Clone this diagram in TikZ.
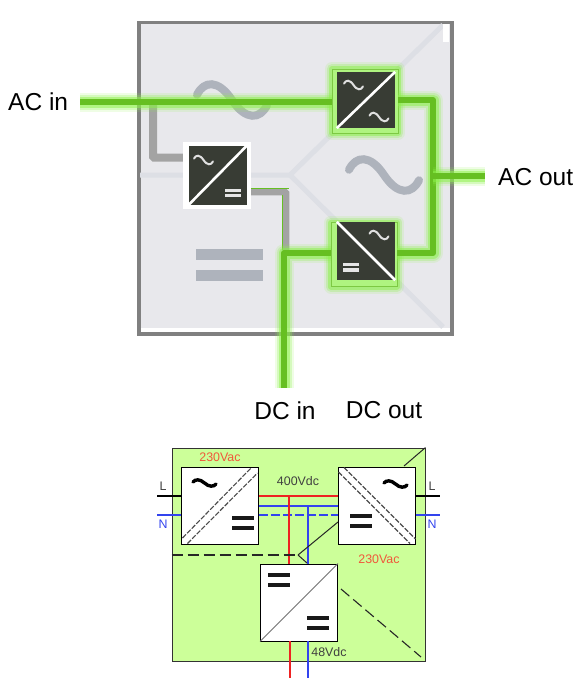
\documentclass[tikz,border=0pt]{standalone}
\usepackage{fontspec}
\setmainfont{Liberation Sans}
\usepackage{tikz}
\usetikzlibrary{arrows.meta,positioning,calc}
\definecolor{panelgrey}{HTML}{E8E8EC}
\definecolor{frameedge}{HTML}{808080}
\definecolor{seamgrey}{HTML}{DDDFE5}
\definecolor{markgrey}{HTML}{AEB3BC}
\definecolor{idleline}{HTML}{A3A3A3}
\definecolor{livegreen}{HTML}{66BF22}
\definecolor{glowgreen}{HTML}{8CF04A}
\definecolor{darkcell}{HTML}{383C34}
\definecolor{limefill}{HTML}{CCFF99}
\definecolor{railred}{HTML}{EE2222}
\definecolor{railblue}{HTML}{3344EE}
\definecolor{voltred}{HTML}{F0583A}
\newcommand{\wavemark}[5]{\draw[#1, line width=#2, line cap=round, shift={#3}, xscale=#4, yscale=#5]
  (-10,-1.5) .. controls (-8,-5.5) and (-4,-6) .. (0,0) .. controls (4,6) and (8,5.5) .. (10,1.5);}
\tikzset{
  x=1pt, y=-1pt,
  glow/.style={
    preaction={draw=glowgreen, line width=#1+13, opacity=.14, line join=round},
    preaction={draw=glowgreen, line width=#1+9, opacity=.26, line join=round},
    preaction={draw=glowgreen, line width=#1+5, opacity=.5, line join=round}},
  liveline/.style={glow=6, draw=livegreen, line width=6, line join=round},
  idlewire/.style={draw=idleline, line width=#1, rounded corners=1},
  seam/.style={draw=seamgrey, line width=5},
  cellframe/.style={draw=livegreen!85!white, fill=glowgreen!70!white, line width=.8, inner sep=0,
    glow=1, minimum width=66, minimum height=64},
  cellwhite/.style={draw=none, fill=white, inner sep=0, minimum width=68, minimum height=67},
  cell/.style={draw=none, fill=darkcell, inner sep=0, minimum width=58, minimum height=#1},
  celldiag/.style={draw=white, line width=2.6},
  cellbar/.style={draw=none, fill=white!90!black, inner sep=0, minimum width=16, minimum height=3.6},
  biglabel/.style={inner sep=0, font=\fontsize{24.5}{28}\selectfont},
  conv/.style={draw=black, fill=white, line width=.9, inner sep=0, minimum width=77, minimum height=77},
  dashdiag/.style={draw=black!70, line width=1.1, dash pattern=on 5 off 1.6},
  rail/.style={line width=1.1},
  bar/.style={draw=none, fill=black!90, inner sep=0, minimum width=22, minimum height=3.4},
  smalltag/.style={inner sep=0, font=\fontsize{12.4}{14}\selectfont},
  longdash/.style={draw=black!85, line width=1.1, dash pattern=on 11 off 5}
}
\begin{document}
\begin{tikzpicture}
  \useasboundingbox (0,0) rectangle (580,678);
  % upper panel
  \node[draw=frameedge, fill=white, line width=4, inner sep=0, minimum width=313, minimum height=311] (panel) at (295,178) {};
  \node[fill=panelgrey, inner sep=0, minimum width=309, minimum height=304] (panelface) at (295,175.5) {};
  \coordinate (hub) at (290,175);
  \coordinate (seamleft) at (140,175);
  \coordinate (seamtop) at (443,25);
  \coordinate (seambot) at (443,327);
  \draw[seam] (seamleft) -- (hub) -- (seamtop);
  \draw[seam] (hub) -- (seambot);
  \fill[white] (443,24) rectangle (449,42);
  \wavemark{markgrey}{8pt}{(232,100)}{3.5}{3.5}
  \wavemark{markgrey}{8pt}{(384,175)}{3.5}{3.5}
  \node[fill=markgrey, inner sep=0, minimum width=67, minimum height=11] (dcmarktop) at (229.5,254.5) {};
  \node[fill=markgrey, inner sep=0, minimum width=67, minimum height=11] (dcmarkbot) at (229.5,275.5) {};

  % converters
  \node[cellwhite] (rectwhite) at (217,175.5) {};
  \node[cell=59] (rect) at (217.5,175.5) {};
  \node[cellframe] (invframe) at (365,101) {};
  \node[cell=56] (inv) at (366,100) {};
  \node[cellframe] (boostframe) at (364,254.5) {};
  \node[cell=58] (boost) at (366,251) {};

  \draw[celldiag] (rect.south west) -- (rect.north east);
  \draw[celldiag] (inv.south west) -- (inv.north east);
  \draw[celldiag] (boost.north west) -- (boost.south east);
  \wavemark{white!88!black}{2pt}{(203.5,160)}{.95}{.95}
  \wavemark{white!88!black}{2pt}{(353.5,85)}{.95}{.95}
  \wavemark{white!88!black}{2pt}{(379,117)}{.95}{.95}
  \wavemark{white!88!black}{2pt}{(379,235)}{.95}{.95}
  \node[cellbar] (rectbartop) at (232.5,190.5) {};
  \node[cellbar] (rectbarbot) at (232.5,195.5) {};
  \node[cellbar] (boostbartop) at (351,264.5) {};
  \node[cellbar] (boostbarbot) at (351,270) {};

  % wiring
  \node[biglabel, anchor=west] (acin) at (8,102) {AC in};
  \node[biglabel, anchor=west] (acout) at (498,177) {AC out};
  \node[biglabel] (dcin) at (285,411) {DC in};
  \node[biglabel] (dcout) at (384,410) {DC out};

  \coordinate (tap) at (153,102);
  \coordinate (idledrop) at (286,252);
  \coordinate (linestart) at (80,102);
  \coordinate (merge) at (433,176);
  \coordinate (dccorner) at (284,253);
  \coordinate (dcend) at (284,388);
  \draw[idlewire=8] (tap) |- (rectwhite.west |- 0,157.5);
  \draw[idlewire=6.5] (rectwhite.east |- 0,192) -| (idledrop);
  \draw[livegreen, line width=.8] (rectwhite.east |- 0,188.5) -- (289,188.5);
  \draw[livegreen, line width=.8] (282.6,195) -- (282.6,250);
  \draw[liveline] (linestart) -- (invframe.west |- linestart);
  \draw[liveline] (invframe.east |- 0,100) -| (merge) |- (boostframe.east |- 0,253);
  \draw[liveline] (merge) -- (485,176);
  \draw[liveline] (dcend) -- (dccorner) -- (boostframe.west |- dccorner);

  % lower schematic
  \node[draw=black!80, fill=limefill, line width=.9, inner sep=0, minimum width=253, minimum height=213] (cabinet) at (298.5,554.5) {};
  \node[conv] (pfc) at (220,505.5) {};
  \node[conv] (sts) at (377,505.5) {};
  \node[conv] (dcdc) at (299,602.5) {};

  \coordinate (lleft) at (157,496);
  \coordinate (lright) at (440,496);
  \coordinate (nleft) at (157,515);
  \coordinate (nright) at (440,515);
  \coordinate (busred) at (289,496);
  \coordinate (busblue) at (308,506);
  \draw[rail, black] (lleft) -- (pfc.west |- lleft);
  \draw[rail, black] (sts.east |- lright) -- (lright);
  \draw[rail, railblue] (nleft) -- (pfc.west |- nleft);
  \draw[rail, railblue] (sts.east |- nright) -- (nright);
  \draw[rail, railred] (pfc.east |- busred) -- (sts.west |- busred);
  \draw[rail, railblue] (pfc.east |- busblue) -- (sts.west |- busblue);
  \draw[rail, railblue, dash pattern=on 9 off 3] (pfc.east |- nleft) -- (sts.west |- nleft);
  \draw[rail, railred] (busred) -- (dcdc.north -| busred);
  \draw[rail, railblue] (busblue) -- (dcdc.north -| busblue);
  \draw[rail, railred] (290,641) -- (290,678);
  \draw[rail, railblue] (308,641) -- (308,678);

  \coordinate (split) at (298,555);
  \draw[longdash] (cabinet.west |- split) -- (split);
  \draw[black!85, line width=1] (split) -- (338,522);
  \draw[black!85, line width=1] (split) -- (307,563);
  \draw[black!85, line width=1] (404,466) -- (cabinet.north east);
  \draw[longdash] (341,589) -- (421,657);

  \draw[dashdiag] (182.5,538) -- (251.5,467.5);
  \draw[dashdiag] (187.5,543.5) -- (257.5,473);
  \draw[dashdiag] (338.5,472) -- (410,543.5);
  \draw[dashdiag] (344,467.5) -- (415.5,539);
  \draw[black!55, line width=1] (dcdc.south west) -- (dcdc.north east);

  \wavemark{black}{3.4pt}{(204.5,483)}{1.15}{.7}
  \wavemark{black}{3.4pt}{(395.5,484)}{1.15}{.7}
  \node[bar] (pfcbartop) at (243,518) {};
  \node[bar] (pfcbarbot) at (243,528) {};
  \node[bar] (stsbartop) at (361,516) {};
  \node[bar] (stsbarbot) at (361,526) {};
  \node[bar] (dcbarah) at (279,575) {};
  \node[bar] (dcbaral) at (279,585) {};
  \node[bar] (dcbarbh) at (318,618) {};
  \node[bar] (dcbarbl) at (318,628) {};

  \node[smalltag, text=voltred] (vacin) at (220,457) {230Vac};
  \node[smalltag, text=voltred] (vacout) at (379,559) {230Vac};
  \node[smalltag, text=black!75] (vbus) at (298,481) {400Vdc};
  \node[smalltag, text=black!75] (vtel) at (329,652) {48Vdc};
  \node[smalltag, text=black!75] (tagll) at (163,486) {L};
  \node[smalltag, text=black!75] (taglr) at (432,486) {L};
  \node[smalltag, text=railblue] (tagnl) at (163,524) {N};
  \node[smalltag, text=railblue] (tagnr) at (432,524) {N};
\end{tikzpicture}
\end{document}
